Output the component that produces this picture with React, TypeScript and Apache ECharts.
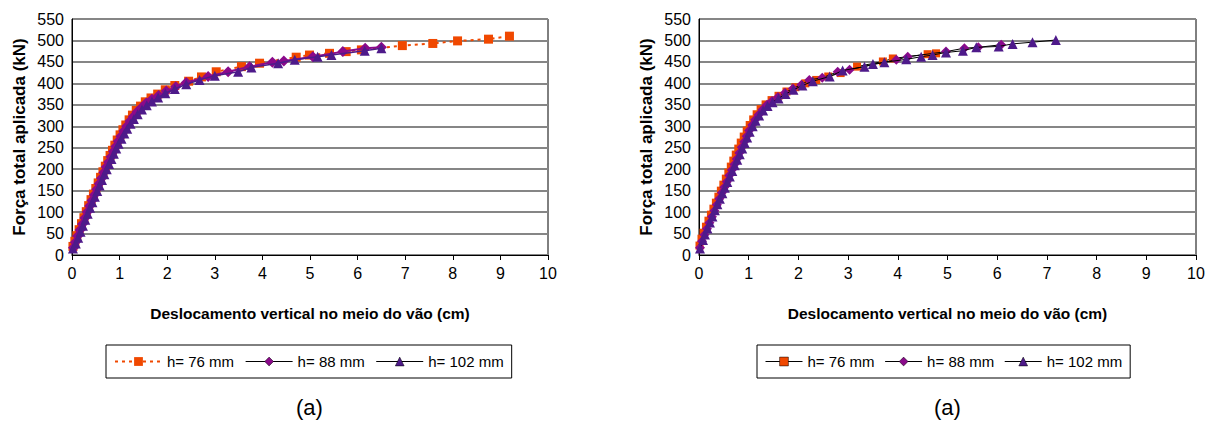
import React, { useEffect, useRef } from "react";
import * as echarts from "echarts";

// ---- Data (displacement cm, load kN) ----
const leftH76: number[][] = [[0.02,20],[0.06,32],[0.10,45],[0.15,59],[0.20,73],[0.25,87],[0.30,101],[0.35,115],[0.40,129],[0.45,142],[0.50,155],[0.55,168],[0.60,181],[0.65,194],[0.70,207],[0.75,220],[0.80,232],[0.85,244],[0.90,256],[0.95,268],[1.01,280],[1.07,292],[1.13,303],[1.20,315],[1.27,326],[1.35,337],[1.44,347],[1.54,357],[1.66,366],[1.80,375],[1.96,385],[2.16,395],[2.45,405],[2.72,415],[3.03,427],[3.56,439],[3.94,447],[4.71,461],[4.99,466],[5.41,470],[5.76,474],[6.08,478],[6.94,488],[7.58,493],[8.10,499],[8.75,503],[9.19,510]];
const leftH88: number[][] = [[0.03,17],[0.07,30],[0.12,44],[0.17,58],[0.22,72],[0.27,86],[0.32,100],[0.37,114],[0.42,127],[0.47,140],[0.52,153],[0.57,166],[0.62,179],[0.67,192],[0.72,205],[0.77,217],[0.82,229],[0.87,241],[0.92,253],[0.97,265],[1.03,277],[1.09,289],[1.15,300],[1.22,312],[1.29,323],[1.37,334],[1.46,344],[1.56,354],[1.68,363],[1.82,372],[1.98,382],[2.18,392],[2.40,402],[2.86,416],[3.28,427],[3.73,439],[4.21,449],[4.45,452],[5.06,462],[5.69,474],[6.16,482],[6.50,484]];
const leftH102: number[][] = [[0.02,15],[0.08,27],[0.13,40],[0.18,54],[0.23,68],[0.28,82],[0.33,96],[0.38,110],[0.43,123],[0.48,136],[0.53,149],[0.58,162],[0.63,175],[0.68,188],[0.73,200],[0.78,212],[0.83,224],[0.88,236],[0.93,248],[0.98,259],[1.04,271],[1.10,283],[1.16,294],[1.23,306],[1.30,317],[1.38,328],[1.47,339],[1.57,349],[1.68,358],[1.81,367],[1.96,377],[2.16,387],[2.40,398],[2.68,408],[3.00,418],[3.49,427],[3.77,437],[4.33,447],[4.68,455],[5.16,462],[5.45,466],[6.15,476],[6.50,482]];

const rightH76: number[][] = [[0.01,22],[0.05,38],[0.09,52],[0.14,66],[0.19,80],[0.24,94],[0.29,108],[0.34,122],[0.39,136],[0.44,150],[0.49,164],[0.54,178],[0.59,192],[0.64,206],[0.69,220],[0.74,234],[0.79,248],[0.84,262],[0.90,276],[0.96,290],[1.02,303],[1.09,316],[1.16,328],[1.24,340],[1.34,351],[1.46,361],[1.60,371],[1.76,381],[1.94,391],[2.14,400],[2.36,408],[2.60,416],[2.85,424],[3.18,439],[3.70,451],[3.90,458],[4.60,468],[4.77,470]];
const rightH88: number[][] = [[0.02,17],[0.06,32],[0.11,47],[0.16,61],[0.21,75],[0.26,89],[0.31,103],[0.36,117],[0.41,131],[0.46,145],[0.51,158],[0.56,171],[0.61,185],[0.66,198],[0.71,211],[0.76,224],[0.81,238],[0.86,251],[0.91,264],[0.96,277],[1.01,290],[1.07,303],[1.13,315],[1.20,327],[1.28,339],[1.37,350],[1.47,359],[1.59,368],[1.73,378],[1.89,388],[2.06,397],[2.22,408],[2.48,413],[2.79,427],[3.03,432],[3.97,455],[4.20,462],[4.97,474],[5.34,482],[5.62,484],[6.08,490]];
const rightH102: number[][] = [[0.02,15],[0.08,35],[0.12,48],[0.17,62],[0.22,76],[0.27,90],[0.32,104],[0.37,118],[0.42,131],[0.47,144],[0.52,157],[0.57,170],[0.62,183],[0.67,196],[0.72,209],[0.77,222],[0.82,235],[0.87,248],[0.92,261],[0.97,274],[1.02,287],[1.08,300],[1.14,313],[1.21,325],[1.29,337],[1.38,347],[1.48,356],[1.60,365],[1.74,375],[1.90,385],[2.08,395],[2.29,405],[2.63,416],[2.89,430],[3.33,439],[3.50,445],[3.73,449],[4.17,456],[4.47,462],[4.70,466],[4.97,472],[5.31,476],[5.58,484],[6.03,486],[6.31,492],[6.71,496],[7.18,501]];

const seriesNames = ["h= 76 mm", "h= 88 mm", "h= 102 mm"];
const xTitle = "Deslocamento vertical no meio do vão (cm)";
const yTitle = "Força total aplicada (kN)";
const panelLabels = ["(a)", "(a)"];

const FONT = 'Arial, "Liberation Sans", sans-serif';
const C76 = "#F04800";
const C88 = "#8B0A8B";
const C102 = "#4E1A8A";

function xAxis(gridIndex: number) {
  return {
    type: "value", gridIndex, min: 0, max: 10, interval: 1,
    name: xTitle, nameLocation: "middle", nameGap: 50,
    nameTextStyle: { fontFamily: FONT, fontWeight: "bold", fontSize: 15.5, color: "#000" },
    axisLine: { show: true, onZero: false, lineStyle: { color: "#000", width: 1 } },
    axisTick: { show: true, length: 5, inside: false, lineStyle: { color: "#000" } },
    axisLabel: { fontFamily: FONT, fontSize: 16, color: "#000", margin: 10 },
    splitLine: { show: false },
  };
}
function yAxis(gridIndex: number) {
  return {
    type: "value", gridIndex, min: 0, max: 550, interval: 50,
    name: yTitle, nameLocation: "middle", nameGap: 44, nameRotate: 90,
    nameTextStyle: { fontFamily: FONT, fontWeight: "bold", fontSize: 17, color: "#000" },
    axisLine: { show: true, lineStyle: { color: "#000", width: 1 } },
    axisTick: { show: false },
    axisLabel: { fontFamily: FONT, fontSize: 16, color: "#000", margin: 8 },
    splitLine: { show: true, lineStyle: { color: "#868686", width: 2 } },
  };
}

export default function App() {
  const ref = useRef<HTMLDivElement>(null);
  useEffect(() => {
    if (!ref.current) return;
    const chart = echarts.init(ref.current, undefined, { renderer: "svg" });
    const rNames = seriesNames.map((n) => n + " ");
    const mk = (name: string, data: number[][], g: number, symbol: string, size: number, color: string, line: any, z: number) => ({
      type: "line", name, data, xAxisIndex: g, yAxisIndex: g,
      symbol, symbolSize: size, showSymbol: true,
      itemStyle: { color, borderColor: color, borderWidth: 0 },
      lineStyle: line, z,
    });
    const legendBase = {
      orient: "horizontal", top: 345, itemHeight: 11,
      padding: [9, 8, 9, 8], borderColor: "#000", borderWidth: 1,
      textStyle: { fontFamily: FONT, fontSize: 15, color: "#000" },
      formatter: (n: string) => n.trim(),
      selectedMode: false,
    };
    chart.setOption({
      animation: false,
      backgroundColor: "#fff",
      grid: [
        { left: 72, top: 19, width: 476, height: 236, show: true, borderColor: "#000", borderWidth: 1, backgroundColor: "#fff" },
        { left: 699, top: 19, width: 497, height: 236, show: true, borderColor: "#000", borderWidth: 1, backgroundColor: "#fff" },
      ],
      xAxis: [xAxis(0), xAxis(1)],
      yAxis: [yAxis(0), yAxis(1)],
      legend: [
        {
          ...legendBase, left: 106, itemWidth: 47, itemGap: 11,
          data: [
            { name: seriesNames[0], itemStyle: { color: C76 }, lineStyle: { color: C76, type: [3, 4], width: 2 } },
            { name: seriesNames[1], itemStyle: { color: C88, borderColor: "#000", borderWidth: 0.5 }, lineStyle: { color: "#000", width: 1, type: "solid" } },
            { name: seriesNames[2], itemStyle: { color: C102, borderColor: "#000", borderWidth: 0.5 }, lineStyle: { color: "#000", width: 1, type: "solid" } },
          ],
        },
        {
          ...legendBase, left: 757, itemWidth: 37, itemGap: 10,
          data: [
            { name: rNames[0], itemStyle: { color: C76, borderColor: "#000", borderWidth: 0.5 }, lineStyle: { color: "#000", width: 1 } },
            { name: rNames[1], itemStyle: { color: C88, borderColor: "#000", borderWidth: 0.5 }, lineStyle: { color: "#000", width: 1 } },
            { name: rNames[2], itemStyle: { color: C102, borderColor: "#000", borderWidth: 0.5 }, lineStyle: { color: "#000", width: 1 } },
          ],
        },
      ],
      series: [
        mk(seriesNames[0], leftH76, 0, "rect", 9, C76, { color: C76, width: 2, type: [3, 4] }, 2),
        mk(seriesNames[1], leftH88, 0, "diamond", 11, C88, { color: C88, width: 2 }, 3),
        mk(seriesNames[2], leftH102, 0, "triangle", 10, C102, { color: C102, width: 1.5 }, 4),
        mk(rNames[0], rightH76, 1, "rect", 8, C76, { color: "#000", width: 1 }, 2),
        mk(rNames[1], rightH88, 1, "diamond", 10, C88, { color: "#000", width: 1 }, 3),
        mk(rNames[2], rightH102, 1, "triangle", 10, C102, { color: "#000", width: 1 }, 4),
      ],
      graphic: [
        { type: "text", left: 296, top: 396, style: { text: panelLabels[0], font: `22px ${FONT}`, fill: "#000" } },
        { type: "text", left: 934, top: 396, style: { text: panelLabels[1], font: `22px ${FONT}`, fill: "#000" } },
      ],
    });
    return () => chart.dispose();
  }, []);
  return <div ref={ref} style={{ position: "fixed", left: 0, top: 0, width: 1208, height: 422 }} />;
}
